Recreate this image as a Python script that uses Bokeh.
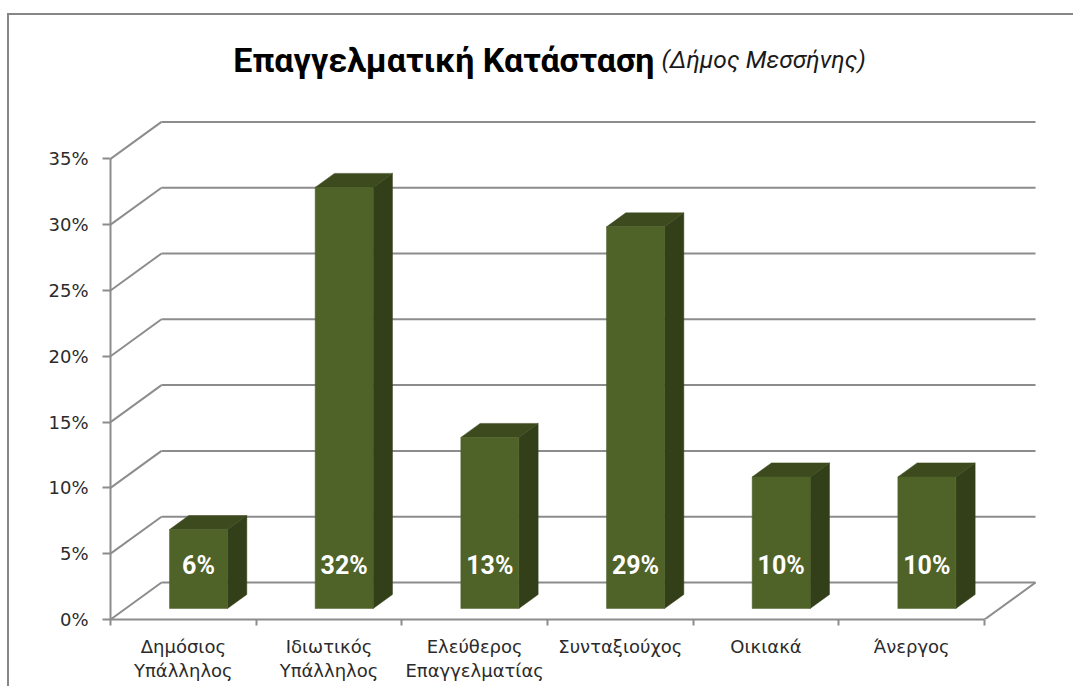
from bokeh.plotting import figure
from bokeh.models import Range1d, FixedTicker, LinearAxis
from bokeh.embed import file_html
from bokeh.resources import INLINE
from bokeh.core.properties import value

# ---- data ----
categories = ["Δημόσιος\nΥπάλληλος", "Ιδιωτικός\nΥπάλληλος", "Ελεύθερος\nΕπαγγελματίας",
              "Συνταξιούχος", "Οικιακά", "Άνεργος"]
percentages = [6, 32, 13, 29, 10, 10]
y_ticks = [0, 5, 10, 15, 20, 25, 30, 35]
y_tick_labels = ["0%", "5%", "10%", "15%", "20%", "25%", "30%", "35%"]
title_main = "Επαγγελματική Κατάσταση"
title_sub = "(Δήμος Μεσσήνης)"

# ---- geometry (pixels per data unit) ----
PX_X = 145.67
PX_Y = 13.16
DX = 51 / PX_X          # depth offset in x units
DY = 37 / PX_Y          # depth offset in y units
D0 = 11 / 37            # bar front depth fraction
DD = 14 / 37            # bar depth fraction
BW = 58 / PX_X          # bar width
n = len(categories)

GRID = "#8c8c8c"
FRONT = "#4f6228"
TOP = "#3c4a1e"
SIDE = "#323f18"

p = figure(width=1066, height=673,
           x_range=Range1d(0, 934 / PX_X), y_range=Range1d(0, 598 / PX_Y),
           output_backend="svg", toolbar_location=None,
           x_axis_location=None, y_axis_location=None,
           min_border_left=101, min_border_right=31,
           min_border_top=6, min_border_bottom=69)
for g in p.grid:
    g.visible = False
p.outline_line_color = None
p.background_fill_color = "white"
p.border_fill_color = "white"
p.styles = {"border-left": "2px solid #868686", "border-top": "2px solid #868686",
            "margin-top": "13px", "margin-left": "7px"}

# back wall gridlines
p.multi_line(xs=[[DX, n + DX] for v in y_ticks],
             ys=[[v + DY, v + DY] for v in y_ticks],
             line_color=GRID, line_width=2)
# side wall diagonals
p.multi_line(xs=[[0, DX] for v in y_ticks],
             ys=[[v, v + DY] for v in y_ticks],
             line_color=GRID, line_width=2)
# floor right edge
p.line(x=[n, n + DX], y=[0, DY], line_color=GRID, line_width=2)

# bars
lefts, rights, bottoms, tops = [], [], [], []
top_xs, top_ys, side_xs, side_ys = [], [], [], []
lx, ly, ltxt = [], [], []
for i, v in enumerate(percentages):
    c = i + 0.5
    xl = c - BW / 2 + D0 * DX
    xr = xl + BW
    yb = D0 * DY
    yt = yb + v
    ox, oy = DD * DX, DD * DY
    lefts.append(xl); rights.append(xr); bottoms.append(yb); tops.append(yt)
    top_xs.append([xl, xr, xr + ox, xl + ox])
    top_ys.append([yt, yt, yt + oy, yt + oy])
    side_xs.append([xr, xr + ox, xr + ox, xr])
    side_ys.append([yb, yb + oy, yt + oy, yt])
    lx.append(xl + BW / 2)
    ly.append(4.1)
    ltxt.append(f"{v}%")

p.patches(xs=side_xs, ys=side_ys, fill_color=SIDE, line_color=SIDE, line_width=0.5)
p.patches(xs=top_xs, ys=top_ys, fill_color=TOP, line_color=TOP, line_width=0.5)
p.quad(left=lefts, right=rights, bottom=bottoms, top=tops,
       fill_color=FRONT, line_color=FRONT, line_width=0.5)

p.text(x=lx, y=ly, text=ltxt, text_color="white", text_font=value("Roboto"),
       text_font_style="bold", text_font_size="25px",
       text_align="center", text_baseline="middle")

# title
split_x = (658 - 111) / PX_X
base_y = (618 - 58) / PX_Y
p.text(x=[split_x - 3 / PX_X], y=[base_y], text=[title_main], text_color="black",
       text_font=value("Roboto"), text_font_style="bold", text_font_size="34px",
       text_align="right", text_baseline="alphabetic")
p.text(x=[split_x + 4 / PX_X], y=[base_y], text=[title_sub], text_color="#1a1a1a",
       text_font=value("Roboto"), text_font_style="italic", text_font_size="24.5px",
       text_align="left", text_baseline="alphabetic")

# y axis
yaxis = LinearAxis(ticker=FixedTicker(ticks=y_ticks, minor_ticks=[]),
                   bounds=(0, max(y_ticks)))
yaxis.major_label_overrides = {t: l for t, l in zip(y_ticks, y_tick_labels)}
yaxis.axis_line_color = GRID
yaxis.axis_line_width = 2
yaxis.major_tick_line_color = GRID
yaxis.major_tick_line_width = 2
yaxis.major_tick_in = 0
yaxis.major_tick_out = 8
yaxis.major_label_standoff = 14
yaxis.major_label_text_font = "DejaVu Sans"
yaxis.major_label_text_font_size = "18px"
yaxis.major_label_text_color = "#2b2b2b"
p.add_layout(yaxis, "left")

# x axis
centers = [i + 0.5 for i in range(n)]
xaxis = LinearAxis(ticker=FixedTicker(ticks=centers, minor_ticks=list(range(n + 1))),
                   bounds=(0, n))
xaxis.major_label_overrides = {c: lab for c, lab in zip(centers, categories)}
xaxis.axis_line_color = GRID
xaxis.axis_line_width = 2
xaxis.major_tick_line_color = None
xaxis.minor_tick_line_color = GRID
xaxis.minor_tick_line_width = 2
xaxis.minor_tick_in = 0
xaxis.minor_tick_out = 6
xaxis.major_label_standoff = 10
xaxis.major_label_text_font = "DejaVu Sans"
xaxis.major_label_text_font_size = "18px"
xaxis.major_label_text_color = "#2b2b2b"
xaxis.major_label_text_line_height = 1.19
p.add_layout(xaxis, "below")

open("out.html", "w").write(file_html(p, INLINE))
